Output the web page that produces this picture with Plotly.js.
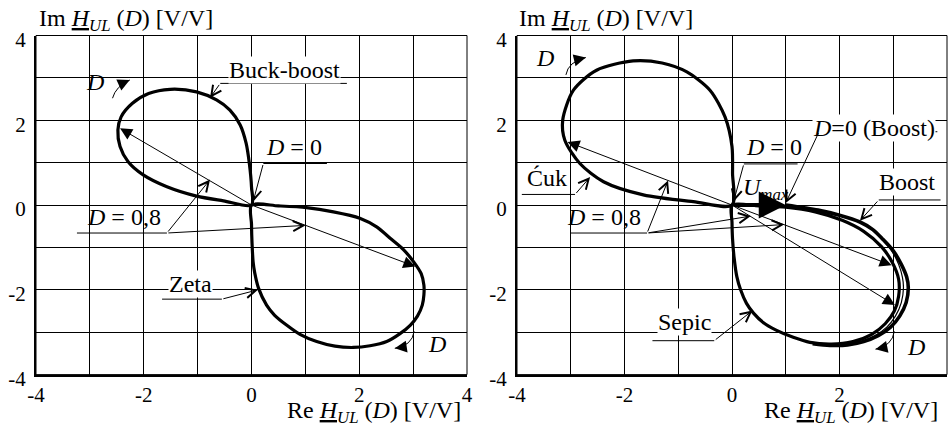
<!DOCTYPE html>
<html>
<head>
<meta charset="utf-8">
<script src="https://cdn.plot.ly/plotly-3.0.1.min.js"></script>
<style>
  html, body { margin: 0; padding: 0; background: #fff; }
  #chart { width: 948px; height: 427px; }
</style>
</head>
<body>
<div id="chart"></div>
<script>
// Axis ticks (grid every 1 V/V, labels on even values)
const tickVals = [-4, -3, -2, -1, 0, 1, 2, 3, 4];
const tickText = ['-4', '', '-2', '', '0', '', '2', '', '4'];

// Buck-boost locus (upper loop, left plot)
const buckBoostRe = [0, 0, -0.04, -0.10, -0.21, -0.40, -0.65, -1.02, -1.51, -1.91, -2.21, -2.42, -2.48, -2.44, -2.29, -2.01, -1.57, -1.02, -0.52, 0];
const buckBoostIm = [0, 0.43, 0.98, 1.46, 1.89, 2.24, 2.48, 2.67, 2.73, 2.63, 2.40, 2.08, 1.77, 1.38, 1.02, 0.71, 0.43, 0.21, 0.10, 0];

// Zeta locus (lower loop, left plot)
const zetaRe = [0, 0.50, 1.02, 1.52, 2.01, 2.33, 2.58, 2.82, 3.01, 3.15, 3.20, 3.20, 3.17, 3.08, 2.95, 2.75, 2.51, 2.20, 1.89, 1.55, 1.21, 0.90, 0.65, 0.43, 0.28, 0.13, 0.06, 0.03, 0.01, 0, 0];
const zetaIm = [0, -0.02, -0.06, -0.16, -0.31, -0.52, -0.79, -1.05, -1.34, -1.62, -1.89, -2.12, -2.36, -2.62, -2.83, -3.04, -3.22, -3.32, -3.36, -3.33, -3.22, -3.05, -2.83, -2.60, -2.36, -1.96, -1.60, -1.34, -0.90, -0.45, 0];

// Cuk locus (upper loop, right plot)
const cukRe = [0, 0.01, 0, -0.13, -0.41, -0.84, -1.30, -1.84, -2.52, -2.95, -3.15, -3.11, -2.83, -2.39, -1.65, -0.72, 0];
const cukIm = [0, 0.75, 1.38, 2.08, 2.71, 3.14, 3.35, 3.40, 3.18, 2.71, 2.00, 1.53, 0.98, 0.55, 0.24, 0.08, 0];

// Sepic locus (lower loop, right plot)
const sepicRe = [0, 0.50, 1.00, 1.55, 2.05, 2.45, 2.78, 2.98, 3.10, 3.10, 3.02, 2.85, 2.60, 2.25, 1.85, 1.45, 1.14, 0.82, 0.58, 0.40, 0.27, 0.16, 0.09, 0.04, 0.01, 0, 0];
const sepicIm = [0, -0.02, -0.05, -0.16, -0.36, -0.62, -0.98, -1.35, -1.75, -2.15, -2.50, -2.80, -3.05, -3.22, -3.28, -3.24, -3.12, -2.95, -2.77, -2.55, -2.32, -2.00, -1.69, -1.25, -0.80, -0.40, 0];

// Boost loci, starting from D = 0 at 1 V/V
const boostRe = [1.00, 1.60, 2.00, 2.38, 2.62, 2.80, 3.00, 3.15, 3.25, 3.28, 3.24, 3.12, 2.95, 2.72, 2.45, 2.15, 1.82, 1.50];
const boostIm = [0, -0.12, -0.24, -0.40, -0.58, -0.80, -1.08, -1.40, -1.70, -1.95, -2.30, -2.62, -2.88, -3.08, -3.22, -3.30, -3.31, -3.27];
const boost2Re = [1.00, 1.60, 2.00, 2.37, 2.60, 2.78, 2.97, 3.10, 3.17, 3.19, 3.15, 3.04, 2.88, 2.66, 2.40, 2.10, 1.80];
const boost2Im = [0, -0.12, -0.24, -0.40, -0.58, -0.80, -1.08, -1.40, -1.70, -1.95, -2.30, -2.62, -2.88, -3.08, -3.22, -3.29, -3.30];

// Transfer function at D = 0,8 (phasor tips)
const buckBoostD08 = [-2.44, 1.81];
const zetaD08 = [3.04, -1.45];
const cukD08 = [-3.06, 1.49];
const sepicD08 = [2.97, -1.42];
const boostD08 = [3.03, -2.36];
// Maximum output of the boost converter (D = 0)
const uMax = [1.0, 0];

const FONT = 'Liberation Serif';
const K = '#000';

function curve(re, im, ax, width) {
  return {
    x: re, y: im, xaxis: ax[0], yaxis: ax[1], type: 'scatter', mode: 'lines',
    line: {color: K, width: width, shape: 'spline', smoothing: 0.8},
    hoverinfo: 'skip', showlegend: false
  };
}

const L = ['x', 'y'];
const R = ['x2', 'y2'];

const traces = [
  curve(buckBoostRe, buckBoostIm, L, 3.2),
  curve(zetaRe, zetaIm, L, 3.2),
  curve(cukRe, cukIm, R, 3.2),
  curve(sepicRe, sepicIm, R, 3.2),
  curve(boost2Re, boost2Im, R, 1.2),
  curve(boostRe, boostIm, R, 3.6)
];

function axisCfg(domain, anchor, isY) {
  return {
    domain: domain, anchor: anchor, range: [-4, 4], fixedrange: true,
    tickmode: 'array', tickvals: tickVals, ticktext: tickText,
    showgrid: true, gridcolor: K, gridwidth: 1,
    zeroline: false, showline: true, linecolor: K, linewidth: 2,
    ticks: '', ticklabelstandoff: isY ? 4 : 0, ticklabelshift: isY ? 4 : 0,
    tickfont: {family: FONT, size: 21, color: K}
  };
}

function label(ax, text, x, y, bg) {
  return {
    xref: ax[0], yref: ax[1], x: x, y: y, text: text, showarrow: false,
    xanchor: 'center', yanchor: 'middle', borderpad: 0,
    bgcolor: bg ? '#fff' : 'rgba(0,0,0,0)',
    font: {family: FONT, size: 24, color: K}
  };
}

function arrow(ax, tail, head, kind) {
  const open = kind === 'open';
  return {
    xref: ax[0], yref: ax[1], axref: ax[0], ayref: ax[1],
    x: head[0], y: head[1], ax: tail[0], ay: tail[1], text: '',
    showarrow: true, arrowcolor: K, standoff: 0,
    arrowhead: open ? 5 : 2, arrowsize: open ? 2 : 2.4, arrowwidth: 1
  };
}

function underline(ax, x0, x1, y) {
  return {type: 'line', xref: ax[0], yref: ax[1], x0: x0, x1: x1, y0: y, y1: y,
          line: {color: K, width: 1}};
}

function bend(ax, p0, c, p1) {
  return {type: 'path', xref: ax[0], yref: ax[1],
          path: 'M' + p0[0] + ',' + p0[1] + ' Q' + c[0] + ',' + c[1] + ' ' + p1[0] + ',' + p1[1],
          line: {color: K, width: 1}};
}

function bendHead(ax, c, p1) {
  const t = [p1[0] + (c[0] - p1[0]) * 0.6, p1[1] + (c[1] - p1[1]) * 0.6];
  return arrow(ax, t, p1, 'solid');
}

function frame(xa, ya) {
  return {type: 'rect', xref: xa + ' domain', yref: ya + ' domain', x0: 0, x1: 1, y0: 0, y1: 1,
          line: {color: K, width: 1}, layer: 'above'};
}

const H = 'Im <span style="text-decoration:underline"><i>H</i></span><sub><i>UL</i></sub> (<i>D</i>) [V/V]';
const Hre = 'Re <span style="text-decoration:underline"><i>H</i></span><sub><i>UL</i></sub> (<i>D</i>) [V/V]';
const D0 = '<i>D</i> = 0';
const D08 = '<i>D</i> = 0,8';
const O = [0, 0];

const annotations = [
  // axis captions
  {xref: 'paper', yref: 'paper', x: 37 / 948, y: 1 - 20 / 427, xanchor: 'left', yanchor: 'middle',
   text: H, showarrow: false, font: {family: FONT, size: 24, color: K}},
  {xref: 'paper', yref: 'paper', x: 517 / 948, y: 1 - 20 / 427, xanchor: 'left', yanchor: 'middle',
   text: H, showarrow: false, font: {family: FONT, size: 24, color: K}},
  {xref: 'paper', yref: 'paper', x: 463 / 948, y: 1 - 412 / 427, xanchor: 'right', yanchor: 'middle',
   text: Hre, showarrow: false, font: {family: FONT, size: 24, color: K}},
  {xref: 'paper', yref: 'paper', x: 940 / 948, y: 1 - 412 / 427, xanchor: 'right', yanchor: 'middle',
   text: Hre, showarrow: false, font: {family: FONT, size: 24, color: K}},

  // left plot
  arrow(L, O, buckBoostD08, 'solid'),
  arrow(L, O, zetaD08, 'solid'),
  label(L, 'Buck-boost', 0.62, 3.18, true),
  arrow(L, [-0.58, 2.87], [-0.77, 2.53], 'open'),
  label(L, D0, 0.78, 1.38, false),
  arrow(L, [0.22, 0.98], [0.03, 0.08], 'open'),
  label(L, D08, -2.37, -0.28, false),
  arrow(L, [-1.57, -0.66], [-0.77, 0.60], 'open'),
  arrow(L, [-1.57, -0.66], [1.0, -0.48], 'open'),
  label(L, 'Zeta', -1.14, -1.86, true),
  arrow(L, [-0.55, -2.22], [0.12, -2.0], 'open'),
  label(L, '<i>D</i>', -2.9, 2.91, false),
  bendHead(L, [-2.52, 2.8], [-2.26, 2.95]),
  label(L, '<i>D</i>', 3.44, -3.28, false),
  bendHead(L, [2.98, -3.32], [2.66, -3.38]),

  // right plot
  arrow(R, O, cukD08, 'solid'),
  arrow(R, O, sepicD08, 'solid'),
  arrow(R, O, boostD08, 'solid'),
  {xref: 'x2', yref: 'y2', axref: 'x2', ayref: 'y2', x: uMax[0], y: uMax[1], ax: 0, ay: 0, text: '',
   showarrow: true, arrowcolor: K, arrowhead: 2, arrowsize: 1.35, arrowwidth: 4, standoff: 0},
  label(R, '<i>D</i>=0 (Boost)', 2.64, 1.81, true),
  arrow(R, [1.62, 1.73], [1.0, 0.05], 'open'),
  label(R, D0, 0.78, 1.38, false),
  arrow(R, [0.22, 0.97], [0.03, 0.08], 'open'),
  label(R, '<i>U</i><sub><i>max</i></sub>', 0.64, 0.37, false),
  label(R, 'Boost', 3.26, 0.55, true),
  arrow(R, [2.73, 0.12], [2.38, -0.37], 'open'),
  label(R, 'Ćuk', -3.45, 0.63, true),
  arrow(R, [-2.92, 0.25], [-2.64, 0.66], 'open'),
  label(R, D08, -2.39, -0.28, false),
  arrow(R, [-1.58, -0.66], [-1.19, 0.58], 'open'),
  arrow(R, [-1.58, -0.66], [0.35, -0.26], 'open'),
  arrow(R, [-1.58, -0.66], [0.97, -0.46], 'open'),
  label(R, 'Sepic', -0.89, -2.77, true),
  arrow(R, [-0.33, -3.2], [0.38, -2.49], 'open'),
  label(R, '<i>D</i>', -3.47, 3.46, false),
  bendHead(R, [-3.05, 3.38], [-2.72, 3.48]),
  label(R, '<i>D</i>', 3.42, -3.36, false),
  bendHead(R, [2.98, -3.32], [2.67, -3.40])
];

const shapes = [
  frame('x', 'y'),
  frame('x2', 'y2'),
  underline(L, -0.58, 1.77, 2.87),
  underline(L, 0.22, 1.40, 0.98),
  underline(L, -3.24, -1.57, -0.66),
  underline(L, -1.66, -0.55, -2.22),
  bend(L, [-2.58, 2.52], [-2.52, 2.8], [-2.26, 2.95]),
  bend(L, [3.02, -2.98], [2.98, -3.32], [2.66, -3.38]),
  underline(R, 1.62, 3.82, 1.73),
  underline(R, 0.22, 1.22, 0.97),
  underline(R, 2.73, 3.88, 0.12),
  underline(R, -3.91, -2.92, 0.25),
  underline(R, -3.0, -1.58, -0.66),
  underline(R, -1.48, -0.33, -3.2),
  bend(R, [-3.09, 3.07], [-3.05, 3.38], [-2.72, 3.48]),
  bend(R, [3.02, -2.98], [2.98, -3.32], [2.67, -3.40])
];

const yDom = [1 - 374.6 / 427, 1 - 35.5 / 427];
const layout = {
  width: 948, height: 427, autosize: false,
  margin: {l: 0, r: 0, t: 0, b: 0, pad: 0},
  paper_bgcolor: '#fff', plot_bgcolor: '#fff',
  showlegend: false,
  font: {family: FONT, color: K},
  xaxis: axisCfg([36 / 948, 467 / 948], 'y', false),
  yaxis: axisCfg(yDom, 'x', true),
  xaxis2: axisCfg([517 / 948, 947 / 948], 'y2', false),
  yaxis2: axisCfg(yDom, 'x2', true),
  annotations: annotations,
  shapes: shapes
};

Plotly.newPlot('chart', traces, layout, {staticPlot: true, displayModeBar: false});
</script>
</body>
</html>
